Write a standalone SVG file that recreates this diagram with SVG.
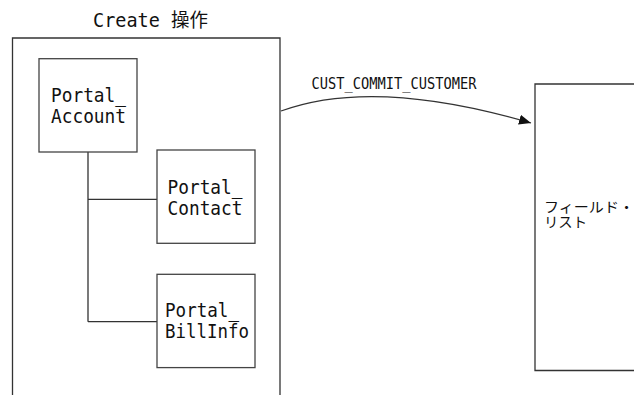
<svg xmlns="http://www.w3.org/2000/svg" width="634" height="395" viewBox="0 0 634 395">
<style>
.ln{fill:none;stroke:#333;stroke-width:1.3}
.bx{fill:#fff;stroke:#444;stroke-width:1.3}
.t{font-family:"DejaVu Sans Mono","Noto Sans CJK JP",monospace;font-size:19px;fill:#111}
.lbl{font-family:"DejaVu Sans Mono",monospace;font-size:15px;fill:#111}
.jp{font-family:"Noto Sans CJK JP",sans-serif;font-size:14px;fill:#111}
</style>
<defs>
<marker id="ah" markerUnits="userSpaceOnUse" markerWidth="14" markerHeight="12" refX="12" refY="5" orient="auto">
<path d="M0,0 L12,5 L0,10 z" fill="#111"/>
</marker>
</defs>
<rect width="634" height="395" fill="#fff"/>
<g id="create-op">
<path class="ln" d="M12.5,395 V38 H280 V395"/>
<text class="t" x="93" y="26.5" textLength="115" lengthAdjust="spacingAndGlyphs">Create 操作</text>
</g>
<g id="field-list">
<path class="ln" d="M634,84 H535 V370.5 H634"/>
<text class="jp"><tspan x="544" y="211.5" textLength="90" lengthAdjust="spacingAndGlyphs">フィールド・</tspan><tspan x="544" y="226.5" textLength="43" lengthAdjust="spacingAndGlyphs">リスト</tspan></text>
</g>
<g id="connectors">
<path class="ln" d="M88,152 V321.7 M88,199.3 H157 M88,321.7 H157"/>
<path class="ln" d="M281,111 Q374,77 531,123" marker-end="url(#ah)"/>
<text class="lbl" x="311.5" y="89" textLength="165" lengthAdjust="spacingAndGlyphs">CUST_COMMIT_CUSTOMER</text>
</g>
<g id="portal-account">
<rect class="bx" x="39" y="58.7" width="98" height="93.3"/>
<text class="t" x="51" y="102" textLength="75" lengthAdjust="spacingAndGlyphs">Portal_</text>
<text class="t" x="51" y="122.5" textLength="75" lengthAdjust="spacingAndGlyphs">Account</text>
</g>
<g id="portal-contact">
<rect class="bx" x="157" y="150" width="98" height="93.3"/>
<text class="t" x="167.5" y="194" textLength="75" lengthAdjust="spacingAndGlyphs">Portal_</text>
<text class="t" x="167.5" y="215" textLength="75" lengthAdjust="spacingAndGlyphs">Contact</text>
</g>
<g id="portal-billinfo">
<rect class="bx" x="157" y="274.3" width="98" height="93.3"/>
<text class="t" x="165" y="317" textLength="74" lengthAdjust="spacingAndGlyphs">Portal_</text>
<text class="t" x="165" y="338.3" textLength="84" lengthAdjust="spacingAndGlyphs">BillInfo</text>
</g>
</svg>
